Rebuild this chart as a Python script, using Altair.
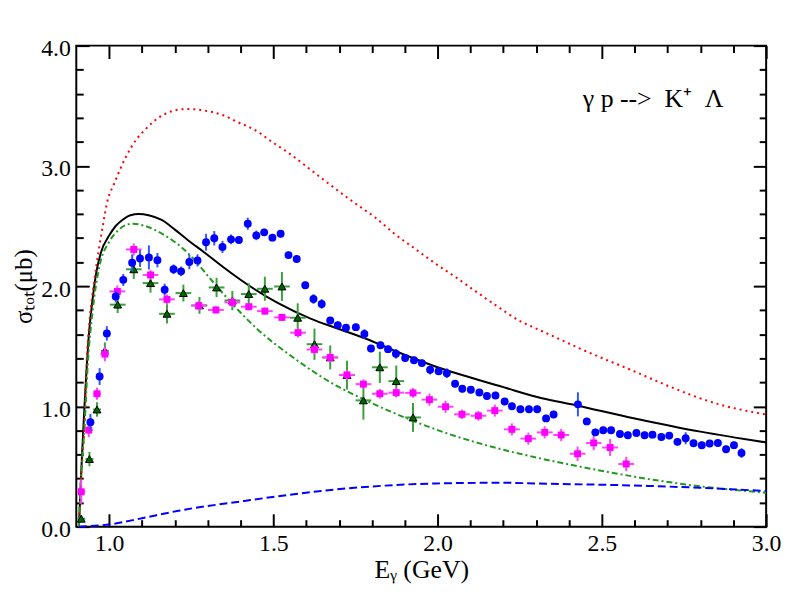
import altair as alt
import pandas as pd

FONT = "Liberation Serif"

# ---- model curves (E in GeV, sigma in microbarn) ----
black_E = [0.908, 0.915, 0.922, 0.930, 0.937, 0.950, 0.960, 0.975, 1.000, 1.020, 1.040, 1.065,
           1.090, 1.120, 1.160, 1.200, 1.241, 1.290, 1.332, 1.412, 1.513, 1.613, 1.693, 1.784,
           1.880, 1.995, 2.100, 2.200, 2.300, 2.420, 2.600, 2.800, 3.000]
black_s = [0.00, 0.45, 0.85, 1.25, 1.55, 1.90, 2.10, 2.28, 2.42, 2.50, 2.55, 2.59,
           2.60, 2.59, 2.55, 2.47, 2.38, 2.28, 2.19, 2.03, 1.86, 1.73, 1.65, 1.56,
           1.45, 1.33, 1.24, 1.16, 1.08, 1.01, 0.90, 0.79, 0.70]

red_E = [0.908, 0.915, 0.925, 0.932, 0.940, 0.955, 0.980, 0.995, 1.015, 1.050, 1.083, 1.109,
         1.136, 1.169, 1.206, 1.241, 1.279, 1.317, 1.352, 1.387, 1.422, 1.456, 1.486, 1.550,
         1.650, 1.749, 1.811, 1.871, 1.933, 1.995, 2.055, 2.115, 2.186, 2.246, 2.306, 2.367,
         2.437, 2.520, 2.600, 2.698, 2.849, 3.000]
red_s = [0.00, 0.42, 0.85, 1.39, 1.70, 2.05, 2.49, 2.71, 2.85, 3.07, 3.22, 3.30,
         3.37, 3.43, 3.465, 3.473, 3.465, 3.445, 3.416, 3.369, 3.328, 3.278, 3.218, 3.10,
         2.89, 2.688, 2.568, 2.430, 2.307, 2.184, 2.074, 1.958, 1.824, 1.717, 1.640, 1.564,
         1.476, 1.38, 1.29, 1.174, 1.023, 0.932]

green_E = [0.908, 0.915, 0.925, 0.935, 0.950, 0.970, 1.000, 1.030, 1.070, 1.110, 1.161, 1.241,
           1.311, 1.382, 1.452, 1.553, 1.693, 1.774, 1.850, 1.925, 2.035, 2.150, 2.300, 2.450,
           2.600, 2.800, 3.000]
green_s = [0.00, 0.42, 0.83, 1.35, 1.80, 2.16, 2.367, 2.47, 2.519, 2.50, 2.436, 2.272,
           2.052, 1.832, 1.640, 1.421, 1.170, 1.060, 0.965, 0.880, 0.770, 0.675, 0.575, 0.490,
           0.415, 0.335, 0.282]

bdash_E = [0.908, 1.010, 1.100, 1.211, 1.412, 1.693, 1.995, 2.200, 2.296, 2.598, 2.799, 3.000]
bdash_s = [0.000, 0.022, 0.070, 0.132, 0.214, 0.310, 0.359, 0.365, 0.359, 0.342, 0.323, 0.296]

# ---- data sets ----
blue_E = [0.943, 0.971, 0.993, 1.020, 1.043, 1.070, 1.094, 1.121, 1.147, 1.169, 1.196, 1.219,
          1.244, 1.269, 1.295, 1.320, 1.345, 1.371, 1.395, 1.422, 1.448, 1.472, 1.497, 1.522,
          1.546, 1.571, 1.597, 1.622, 1.647, 1.673, 1.696, 1.721, 1.751, 1.777, 1.797, 1.826,
          1.849, 1.873, 1.901, 1.928, 1.952, 1.977, 2.003, 2.028, 2.053, 2.075, 2.101, 2.127,
          2.150, 2.176, 2.204, 2.226, 2.252, 2.278, 2.303, 2.330, 2.353, 2.427, 2.454, 2.480,
          2.504, 2.528, 2.555, 2.579, 2.605, 2.630, 2.654, 2.681, 2.705, 2.730, 2.755, 2.779,
          2.804, 2.828, 2.853, 2.878, 2.902, 2.925]
blue_s = [0.868, 1.248, 1.607, 1.914, 2.052, 2.194, 2.230, 2.239, 2.216, 1.970, 2.140, 2.123,
          2.200, 2.214, 2.365, 2.398, 2.326, 2.389, 2.384, 2.519, 2.422, 2.447, 2.403, 2.436,
          2.258, 2.225, 2.008, 1.893, 1.852, 1.714, 1.676, 1.654, 1.659, 1.602, 1.481, 1.509,
          1.476, 1.437, 1.402, 1.383, 1.360, 1.305, 1.292, 1.276, 1.188, 1.146, 1.138, 1.116,
          1.086, 1.091, 1.040, 1.001, 0.976, 0.976, 0.976, 0.900, 0.933, 1.017, 0.875, 0.784,
          0.801, 0.801, 0.770, 0.760, 0.779, 0.760, 0.765, 0.746, 0.757, 0.705, 0.735, 0.694,
          0.677, 0.691, 0.696, 0.644, 0.677, 0.612]
blue_err = [0.07, 0.07, 0.06, 0.05, 0.05, 0.07, 0.07, 0.10, 0.06, 0.05, 0.04, 0.04,
            0.06, 0.05, 0.07, 0.06, 0.05, 0.04, 0.03, 0.05, 0.04, 0.03, 0.03, 0.03,
            0.03, 0.03, 0.03, 0.04, 0.04, 0.03, 0.03, 0.03, 0.03, 0.04, 0.03, 0.03,
            0.03, 0.04, 0.03, 0.03, 0.03, 0.04, 0.03, 0.04, 0.03, 0.03, 0.03, 0.03,
            0.03, 0.03, 0.03, 0.03, 0.03, 0.03, 0.03, 0.03, 0.03, 0.10, 0.03, 0.03,
            0.03, 0.03, 0.03, 0.03, 0.03, 0.03, 0.03, 0.03, 0.03, 0.03, 0.05, 0.03,
            0.03, 0.03, 0.03, 0.03, 0.03, 0.04]

pink_E = [0.915, 0.938, 0.963, 0.987, 1.025, 1.075, 1.126, 1.176, 1.273, 1.325, 1.375, 1.425,
          1.474, 1.526, 1.575, 1.625, 1.673, 1.724, 1.774, 1.824, 1.874, 1.925, 1.975, 2.024,
          2.074, 2.124, 2.174, 2.226, 2.276, 2.326, 2.376, 2.426, 2.475, 2.525, 2.574]
pink_s = [0.290, 0.803, 1.105, 1.435, 1.956, 2.305, 2.093, 1.890, 1.838, 1.802, 1.865, 1.829,
          1.792, 1.740, 1.613, 1.473, 1.407, 1.262, 1.185, 1.105, 1.114, 1.112, 1.056, 0.997,
          0.934, 0.922, 0.965, 0.809, 0.732, 0.784, 0.762, 0.606, 0.696, 0.658, 0.521]
pink_err = [0.10, 0.06, 0.05, 0.06, 0.05, 0.05, 0.04, 0.04, 0.04, 0.03, 0.04, 0.03,
            0.03, 0.03, 0.04, 0.04, 0.04, 0.04, 0.04, 0.04, 0.04, 0.04, 0.05, 0.05,
            0.04, 0.04, 0.05, 0.05, 0.05, 0.05, 0.05, 0.06, 0.06, 0.07, 0.06]
pink_xerr = [0.012, 0.012, 0.012, 0.012, 0.024, 0.024, 0.024, 0.024, 0.024, 0.024, 0.024, 0.024,
             0.024, 0.024, 0.024, 0.024, 0.024, 0.024, 0.024, 0.024, 0.024, 0.024, 0.024, 0.024,
             0.024, 0.024, 0.024, 0.024, 0.024, 0.024, 0.024, 0.024, 0.024, 0.024, 0.024]

tri_E = [0.915, 0.940, 0.963, 0.987, 1.026, 1.075, 1.126, 1.176, 1.226, 1.275, 1.327, 1.375,
         1.425, 1.474, 1.526, 1.574, 1.625, 1.673, 1.724, 1.774, 1.824, 1.874, 1.925]
tri_s = [0.066, 0.562, 0.974, 1.462, 1.846, 2.140, 2.025, 1.770, 1.942, 1.840, 1.989, 1.880,
         1.934, 1.978, 1.997, 1.737, 1.517, 1.407, 1.260, 1.050, 1.325, 1.210, 0.908]
tri_err = [0.03, 0.06, 0.06, 0.07, 0.07, 0.08, 0.08, 0.08, 0.07, 0.07, 0.08, 0.08,
           0.09, 0.10, 0.12, 0.12, 0.13, 0.10, 0.12, 0.16, 0.13, 0.13, 0.12]
tri_xerr = [0.012, 0.012, 0.012, 0.012, 0.024, 0.024, 0.024, 0.024, 0.024, 0.024, 0.024, 0.024,
            0.024, 0.024, 0.024, 0.024, 0.024, 0.024, 0.024, 0.024, 0.024, 0.024, 0.024]

# ---- axes ticks / labels ----
x_major = [1.0, 1.5, 2.0, 2.5, 3.0]
x_ticks = [1.0, 1.1, 1.2, 1.3, 1.4, 1.5, 1.6, 1.7, 1.8, 1.9, 2.0,
           2.1, 2.2, 2.3, 2.4, 2.5, 2.6, 2.7, 2.8, 2.9, 3.0]
y_major = [0.0, 1.0, 2.0, 3.0, 4.0]
y_ticks = [0.0, 0.2, 0.4, 0.6, 0.8, 1.0, 1.2, 1.4, 1.6, 1.8, 2.0,
           2.2, 2.4, 2.6, 2.8, 3.0, 3.2, 3.4, 3.6, 3.8, 4.0]
x_title = "Eᵧ (GeV)"
y_title = "σₜₒₜ(μb)"

note_x = [2.442]
note_y = [3.49]
note_text = ["γ p -->\u00a0 K⁺ \u00a0Λ"]

W, H = 697, 486

xs = alt.Scale(domain=[0.9, 3.0], nice=False, zero=False)
ys = alt.Scale(domain=[0.0, 4.0], nice=False, zero=False)

xcond = {"condition": {"test": "abs(datum.value*2 - round(datum.value*2)) < 0.001", "value": 13}, "value": 7}
ycond = {"condition": {"test": "abs(datum.value - round(datum.value)) < 0.001", "value": 13}, "value": 7}

main_x = alt.Axis(orient="bottom", values=x_major, format=".1f", ticks=False, tickSize=0, domain=False,
                  grid=False, labelFont=FONT, labelFontSize=24, labelColor="black",
                  labelBaseline="alphabetic", labelPadding=24, labelFlush=False,
                  title=x_title, titleFont=FONT, titleFontSize=26, titleFontWeight="normal",
                  titleColor="black", titleX=W / 2, titleY=51, titleBaseline="alphabetic",
                  titleAlign="center")
main_y = alt.Axis(orient="left", values=y_major, format=".1f", ticks=False, tickSize=0, domain=False,
                  grid=False, labelFont=FONT, labelFontSize=24, labelColor="black",
                  labelBaseline="middle", labelOffset=3, labelPadding=6, labelFlush=False,
                  title=y_title, titleFont=FONT, titleFontSize=25, titleFontWeight="normal",
                  titleColor="black", titleX=-45, titleY=H / 2, titleAngle=270,
                  titleBaseline="alphabetic", titleAlign="center")


def tick_axis(orient, offset, vals, cond):
    return alt.Axis(orient=orient, offset=offset, values=vals, labels=False, ticks=True,
                    tickSize=cond, tickWidth=2, tickColor="black", domain=False, grid=False,
                    title="")


ax_bottom = tick_axis("top", -H, x_ticks, xcond)
ax_top = tick_axis("bottom", -H, x_ticks, xcond)
ax_left = tick_axis("right", -W, y_ticks, ycond)
ax_right = tick_axis("left", -W, y_ticks, ycond)


def curve(E, s, axx=None, axy=None, **mk):
    df = pd.DataFrame({"E": E, "s": s})
    return alt.Chart(df).mark_line(interpolate="monotone", **mk).encode(
        x=alt.X("E:Q", scale=xs, axis=axx),
        y=alt.Y("s:Q", scale=ys, axis=axy),
    )


c_black = curve(black_E, black_s, main_x, main_y, color="black", strokeWidth=2)
c_red = curve(red_E, red_s, ax_bottom, ax_left, color="#ff0000", strokeWidth=2, strokeDash=[2, 4])
c_green = curve(green_E, green_s, ax_top, ax_right, color="#1f9a1f", strokeWidth=2,
                strokeDash=[6, 3, 2, 3])
c_bdash = curve(bdash_E, bdash_s, None, None, color="#0000ff", strokeWidth=2, strokeDash=[8, 4])

df_blue = pd.DataFrame({"E": blue_E, "s": blue_s, "e": blue_err})
df_blue["lo"] = df_blue["s"] - df_blue["e"]
df_blue["hi"] = df_blue["s"] + df_blue["e"]

df_pink = pd.DataFrame({"E": pink_E, "s": pink_s, "e": pink_err, "xe": pink_xerr})
df_pink["lo"] = df_pink["s"] - df_pink["e"]
df_pink["hi"] = df_pink["s"] + df_pink["e"]
df_pink["xl"] = df_pink["E"] - df_pink["xe"]
df_pink["xh"] = df_pink["E"] + df_pink["xe"]

df_tri = pd.DataFrame({"E": tri_E, "s": tri_s, "e": tri_err, "xe": tri_xerr})
df_tri["lo"] = df_tri["s"] - df_tri["e"]
df_tri["hi"] = df_tri["s"] + df_tri["e"]
df_tri["xl"] = df_tri["E"] - df_tri["xe"]
df_tri["xh"] = df_tri["E"] + df_tri["xe"]


def vbar(df, color):
    return alt.Chart(df).mark_rule(color=color, strokeWidth=2).encode(
        x=alt.X("E:Q", scale=xs, axis=None),
        y=alt.Y("lo:Q", scale=ys, axis=None),
        y2="hi:Q",
    )


def hbar(df, color):
    return alt.Chart(df).mark_rule(color=color, strokeWidth=2).encode(
        x=alt.X("xl:Q", scale=xs, axis=None),
        x2="xh:Q",
        y=alt.Y("s:Q", scale=ys, axis=None),
    )


def pts(df, **mk):
    return alt.Chart(df).mark_point(filled=True, opacity=1, **mk).encode(
        x=alt.X("E:Q", scale=xs, axis=None),
        y=alt.Y("s:Q", scale=ys, axis=None),
    )


tri_v = vbar(df_tri, "#3aa03a")
tri_h = hbar(df_tri, "#3aa03a")
tri_p = pts(df_tri, shape="triangle-up", size=64, fill="#006400", stroke="black", strokeWidth=1)

pink_v = vbar(df_pink, "#ff44ff")
pink_h = hbar(df_pink, "#ff44ff")
pink_p = pts(df_pink, shape="square", size=49, color="#ff00ff")

blue_v = vbar(df_blue, "#3355ff")
blue_p = pts(df_blue, shape="circle", size=64, color="#0000ff")

df_note = pd.DataFrame({"E": note_x, "s": note_y, "t": note_text})
note = alt.Chart(df_note).mark_text(align="left", baseline="alphabetic", font=FONT,
                                    fontSize=26, color="black").encode(
    x=alt.X("E:Q", scale=xs, axis=None),
    y=alt.Y("s:Q", scale=ys, axis=None),
    text="t:N",
)

chart = alt.layer(
    c_black, c_red, c_green, c_bdash,
    tri_v, tri_h, tri_p,
    pink_v, pink_h, pink_p,
    blue_v, blue_p,
    note,
).resolve_axis(x="independent", y="independent").properties(
    width=W, height=H,
    padding={"left": 69, "top": 35, "right": 15, "bottom": 60},
    autosize=alt.AutoSizeParams(type="none"),
    background="white",
).configure_view(stroke="black", strokeWidth=2)

chart.save("out.html", embed_options={"renderer": "svg", "actions": False})
